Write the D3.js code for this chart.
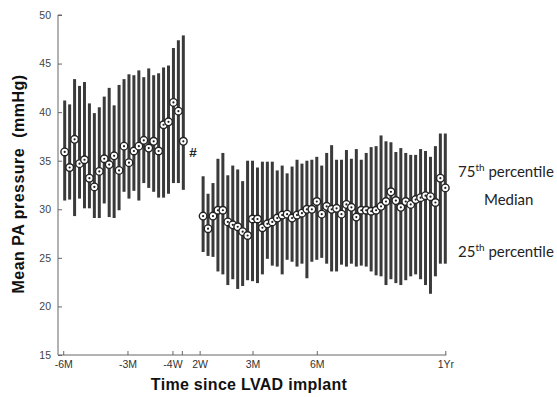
<!DOCTYPE html>
<html>
<head>
<meta charset="utf-8">
<script src="https://cdn.jsdelivr.net/npm/d3@7/dist/d3.min.js"></script>
<style>
  html, body { margin: 0; padding: 0; background: #fff; }
  svg { display: block; }
</style>
</head>
<body>
<svg id="chart" width="557" height="397"></svg>
<script>
// ---- data (weeks relative to LVAD implant) ----
const preWeeks = [-25,-24,-23,-22,-21,-20,-19,-18,-17,-16,-15,-14,-13,-12,-11,-10,-9,-8,-7,-6,-5,-4,-3,-2,-1];
const preP75 = [41.2,40.8,43.4,42.7,43.1,40.9,39.9,40.5,41.6,42.5,40.7,42.8,43.4,43.9,43.8,44.3,43.6,44.5,43.8,44.0,44.6,44.8,46.6,47.4,47.9];
const preMedian = [35.9,34.3,37.2,34.7,35.1,33.2,32.3,33.9,35.2,34.6,35.5,34.0,36.5,34.8,36.0,36.5,37.1,36.3,37.0,36.0,38.7,39.0,41.0,40.1,37.0];
const preP25 = [30.9,31.0,29.3,31.1,30.1,30.1,29.1,29.1,30.6,29.2,29.1,29.9,31.8,31.1,31.9,30.9,32.7,32.2,31.8,31.2,31.2,31.6,32.7,32.7,32.0];

const postWeeks = [3,4,5,6,7,8,9,10,11,12,13,14,15,16,17,18,19,20,21,22,23,24,25,26,27,28,29,30,31,32,33,34,35,36,37,38,39,40,41,42,43,44,45,46,47,48,49,50,51,52];
const postP75 = [33.4,31.6,32.7,35.2,35.8,33.5,34.5,34.1,32.9,35.0,35.0,34.3,34.9,34.9,34.9,34.0,34.5,33.7,34.4,35.1,34.7,35.0,35.1,35.4,34.5,35.8,36.6,35.1,35.1,36.1,35.2,36.2,35.1,35.8,36.4,36.5,37.6,37.0,36.9,35.9,36.3,35.8,35.6,35.6,36.2,36.0,35.4,36.5,37.8,37.8];
const postMedian = [29.3,28.0,29.3,29.9,29.9,28.7,28.4,28.2,27.7,27.3,29.0,29.0,28.1,28.5,28.7,29.1,29.4,29.5,29.1,29.4,29.6,30.0,30.0,30.8,29.5,30.3,30.0,30.1,29.5,30.5,30.2,29.2,29.9,29.9,29.8,29.9,30.3,30.8,31.8,30.9,30.2,30.8,30.5,31.0,31.2,31.4,31.3,30.7,33.2,32.2];
const postP25 = [25.6,25.2,25.1,23.6,23.3,22.2,22.8,21.8,22.1,22.7,22.6,22.4,23.3,24.9,24.2,24.1,23.3,24.8,24.6,24.1,24.4,22.9,24.6,24.8,25.0,24.4,23.6,23.6,24.3,24.1,24.4,24.1,24.2,24.1,23.6,23.2,23.1,22.2,22.8,22.4,22.2,22.7,23.1,23.3,22.8,22.2,21.3,23.1,24.4,24.4];

const xTickWeeks = [-25.3, -12.3, -3.2, -1.3, 2.3, 13, 26, 52];
const xTickLabels = ["-6M", "-3M", "-4W", "", "2W", "3M", "6M", "1Yr"];
const yTicks = [15, 20, 25, 30, 35, 40, 45, 50];

// ---- build records ----
const pre = preWeeks.map((w, i) => ({ w, hi: preP75[i], med: preMedian[i], lo: preP25[i] }));
const post = postWeeks.map((w, i) => ({ w, hi: postP75[i], med: postMedian[i], lo: postP25[i] }));
const all = pre.concat(post);

const svg = d3.select("#chart");
const x = d3.scaleLinear().domain([-25, 52]).range([64.7, 445.3]);
const y = d3.scaleLinear().domain([15, 50]).range([355, 15]);
const axisX0 = 58;

// y axis
const yAxis = d3.axisRight(y).tickValues(yTicks).tickSize(4).tickFormat(d3.format("d"));
const gy = svg.append("g").attr("transform", `translate(${axisX0},0)`).call(yAxis);
gy.select(".domain").attr("stroke", "#666").attr("d", `M4,${y(50)}H0V${y(15)}H0`);
gy.selectAll(".tick line").attr("stroke", "#666");
gy.selectAll(".tick text")
  .attr("x", -7).attr("text-anchor", "end")
  .attr("font-family", "Liberation Sans, Arial, sans-serif")
  .attr("font-size", 10.5).attr("fill", "#444");

// x axis
const xAxis = d3.axisTop(x).tickValues(xTickWeeks).tickSize(4)
  .tickFormat((d, i) => xTickLabels[i]);
const gx = svg.append("g").attr("transform", `translate(0,${y(15)})`).call(xAxis);
gx.select(".domain").attr("stroke", "#666").attr("d", `M${axisX0},0H${x(52) + 1}`);
gx.selectAll(".tick line").attr("stroke", "#666");
gx.selectAll(".tick text")
  .attr("y", 13).attr("dy", "0")
  .attr("font-family", "Liberation Sans, Arial, sans-serif")
  .attr("font-size", 10.5).attr("fill", "#333");

// bars (25th - 75th percentile)
svg.append("g").selectAll("line.bar").data(all).join("line")
  .attr("class", "bar")
  .attr("x1", d => x(d.w)).attr("x2", d => x(d.w))
  .attr("y1", d => y(d.hi)).attr("y2", d => y(d.lo))
  .attr("stroke", "#3a3a3a").attr("stroke-width", 3);

// median markers
const mk = svg.append("g").selectAll("g.med").data(all).join("g")
  .attr("class", "med")
  .attr("transform", d => `translate(${x(d.w)},${y(d.med)})`);
mk.append("circle").attr("r", 3.8).attr("fill", "#fff").attr("stroke", "#222").attr("stroke-width", 1.4);
mk.append("circle").attr("r", 1.1).attr("fill", "#222");

// "#" marker (next to the last pre-implant median)
const lastPre = pre[pre.length - 1];
svg.append("text").attr("x", x(lastPre.w) + 6).attr("y", y(lastPre.med) + 16)
  .attr("font-family", "Liberation Sans, Arial, sans-serif").attr("font-weight", "bold")
  .attr("font-size", 13.5).attr("fill", "#222").text("#");

// axis titles
svg.append("text")
  .attr("transform", `translate(24,184) rotate(-90)`)
  .attr("text-anchor", "middle")
  .attr("font-family", "Liberation Sans, Arial, sans-serif").attr("font-weight", "bold")
  .attr("font-size", 16).attr("letter-spacing", 0.5).attr("fill", "#111")
  .text("Mean PA pressure\u00a0 (mmHg)");

svg.append("text")
  .attr("x", 249).attr("y", 390)
  .attr("text-anchor", "middle")
  .attr("font-family", "Liberation Sans, Arial, sans-serif").attr("font-weight", "bold")
  .attr("font-size", 16).attr("letter-spacing", 0.3).attr("fill", "#111")
  .text("Time since LVAD implant");

// annotations
function annot(xp, yp, main, sup, rest) {
  const t = svg.append("text").attr("x", xp).attr("y", yp)
    .attr("font-family", "Lato, Open Sans, sans-serif").attr("font-size", 15).attr("fill", "#222");
  t.append("tspan").text(main);
  if (sup) {
    t.append("tspan").attr("font-size", 10).attr("dy", -6).text(sup);
    t.append("tspan").attr("dy", 6).text(rest);
  }
}
annot(458, 177, "75", "th", " percentile");
annot(484, 205, "Median");
annot(458, 257, "25", "th", " percentile");
</script>
</body>
</html>
